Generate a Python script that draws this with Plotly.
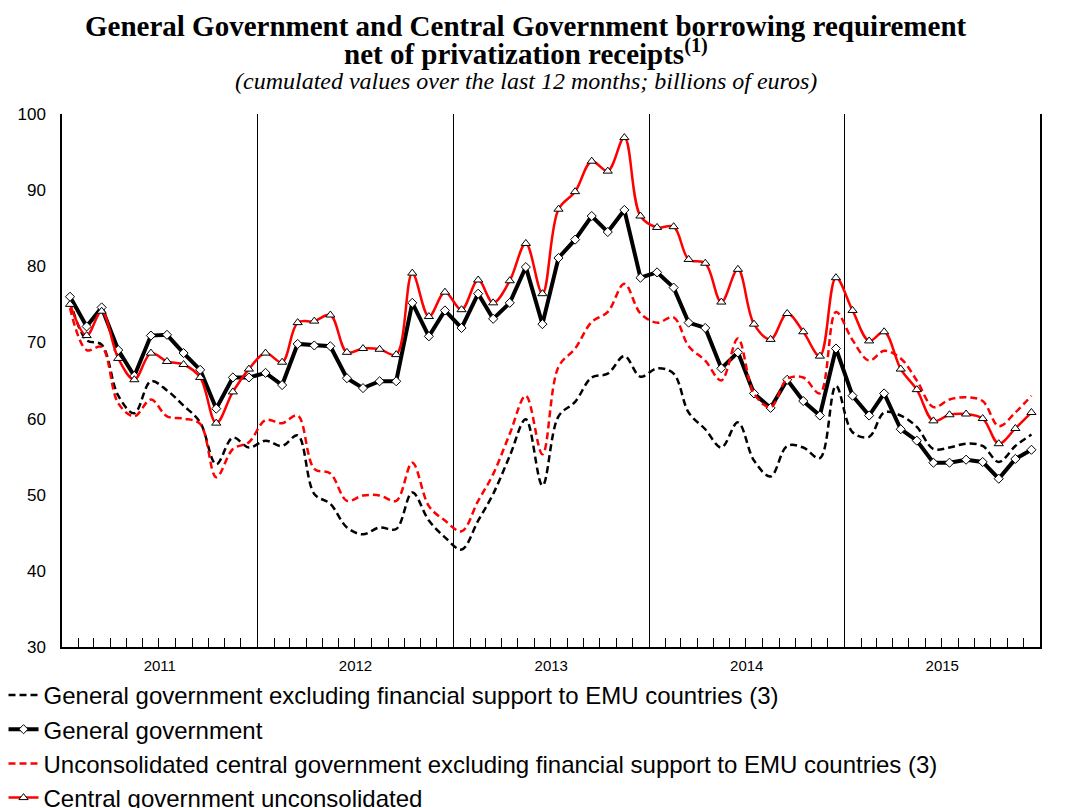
import plotly.graph_objects as go

# Months Jan 2011 .. Dec 2015 (mid-month positions)
months = [f"{y}-{m:02d}-16" for y in range(2011, 2016) for m in range(1, 13)]
year_mid = ["2011-07-01", "2012-07-01", "2013-07-01", "2014-07-01", "2015-07-01"]
y_ticks = [30, 40, 50, 60, 70, 80, 90, 100]
dark_grid = [40, 50, 70, 90]
light_grid = [60, 80]

# General government excluding financial support to EMU countries (black dashed)
gg_ex = [75.5, 70.3, 69.7, 63.0, 60.7, 64.9, 63.7, 61.7, 59.5, 54.0, 57.5, 56.2,
         57.1, 56.4, 57.8, 50.1, 48.8, 45.7, 44.8, 45.7, 45.5, 50.3, 46.6, 44.4,
         42.8, 46.6, 50.1, 55.1, 59.9, 51.2, 60.3, 62.2, 65.4, 65.9, 68.2, 65.5,
         66.6, 65.9, 60.8, 58.6, 56.2, 59.5, 54.5, 52.4, 56.4, 56.2, 54.8, 64.3,
         58.2, 57.6, 60.8, 60.4, 58.9, 56.0, 56.2, 56.7, 56.4, 54.3, 56.4, 57.9]

# General government (black solid, diamonds)
gg = [76.0, 72.1, 74.6, 69.0, 65.6, 70.9, 71.0, 68.6, 66.4, 61.3, 65.4, 65.4,
      66.0, 64.4, 69.8, 69.6, 69.5, 65.3, 64.0, 64.9, 64.9, 75.2, 70.8, 74.2,
      71.9, 76.4, 73.1, 75.2, 79.9, 72.4, 81.1, 83.5, 86.6, 84.5, 87.4, 78.5,
      79.2, 77.2, 72.6, 71.9, 66.6, 68.7, 63.3, 61.4, 65.1, 62.3, 60.4, 69.2,
      63.0, 60.4, 63.3, 58.6, 57.1, 54.2, 54.2, 54.6, 54.3, 52.1, 54.7, 55.9]

# Unconsolidated central government excluding financial support (red dashed)
cg_ex = [74.5, 69.0, 69.4, 62.0, 60.3, 62.5, 60.3, 60.0, 59.3, 52.3, 56.0, 56.9,
         59.8, 59.4, 60.4, 53.4, 52.8, 49.2, 49.9, 49.9, 49.2, 54.2, 48.5, 46.6,
         45.2, 49.2, 52.7, 58.0, 63.0, 55.3, 66.8, 69.2, 72.7, 74.0, 77.7, 73.8,
         72.6, 73.3, 69.5, 67.6, 65.0, 70.5, 63.3, 61.5, 65.2, 65.4, 63.3, 74.0,
         70.3, 67.6, 68.9, 67.9, 65.0, 61.5, 62.5, 62.8, 62.3, 59.0, 60.8, 63.0]

# Central government unconsolidated (red solid, triangles)
cg = [75.0, 70.9, 74.1, 67.9, 65.1, 68.6, 67.5, 67.1, 65.4, 59.4, 63.5, 66.5,
      68.6, 67.4, 72.6, 72.8, 73.6, 68.7, 69.2, 69.1, 68.4, 79.1, 73.4, 76.6,
      74.3, 78.2, 75.2, 78.1, 83.0, 76.4, 87.5, 89.8, 93.8, 92.5, 96.9, 86.6,
      85.1, 85.2, 80.9, 80.4, 75.3, 79.6, 72.4, 70.4, 73.8, 71.4, 68.2, 78.5,
      74.2, 70.2, 71.4, 66.5, 63.8, 59.7, 60.5, 60.6, 60.0, 56.7, 58.7, 60.8]

SANS = "Liberation Sans, Arial, sans-serif"
SERIF = "Liberation Serif, Times New Roman, serif"

fig = go.Figure()
fig.add_trace(go.Scatter(
    x=months, y=gg_ex, mode="lines", legendgroup="a",
    name="General government excluding financial support to EMU countries (3)",
    line=dict(color="black", width=2.5, dash="7px,4px", shape="spline", smoothing=1.0)))
fig.add_trace(go.Scatter(
    x=months, y=gg, mode="lines+markers", legendgroup="b",
    name="General government",
    line=dict(color="black", width=4),
    marker=dict(symbol="diamond", size=7, color="white", line=dict(color="black", width=1))))
fig.add_trace(go.Scatter(
    x=months, y=cg_ex, mode="lines", legendgroup="c",
    name="Unconsolidated central government excluding financial support to EMU countries (3)",
    line=dict(color="#ff0000", width=2.5, dash="7px,4px", shape="spline", smoothing=1.0)))
fig.add_trace(go.Scatter(
    x=months, y=cg, mode="lines+markers", legendgroup="d",
    name="Central government unconsolidated",
    line=dict(color="#ff0000", width=2.5, shape="spline", smoothing=1.0),
    marker=dict(symbol="triangle-up", size=8, color="white", line=dict(color="black", width=1))))

yr = [30, 100]
fig.update_layout(
    width=1084, height=808,
    margin=dict(l=62, r=44, t=114, b=161, autoexpand=False),
    paper_bgcolor="white", plot_bgcolor="white",
    showlegend=True,
    legend=dict(orientation="v", x=-0.0598, y=-0.0486, xanchor="left", yanchor="top",
                font=dict(family=SANS, size=24, color="black"),
                tracegroupgap=0, bgcolor="rgba(0,0,0,0)", itemwidth=30),
    xaxis=dict(type="date", range=["2011-01-01", "2016-01-01"], automargin=False,
               dtick="M12", tick0="2011-01-01", tickformat="%Y", ticklabelmode="period",
               showgrid=True, gridcolor="black", gridwidth=1,
               ticks="", showline=True, linecolor="black", linewidth=1.5,
               ticklabelstandoff=4,
               tickfont=dict(family=SANS, size=15, color="black"),
               minor=dict(dtick="M1", tick0="2011-01-01", ticks="inside", ticklen=9,
                          tickcolor="black", tickwidth=1, showgrid=False),
               zeroline=False),
    xaxis2=dict(type="date", overlaying="x", matches="x", side="top", automargin=False,
                range=["2011-01-01", "2016-01-01"], showticklabels=False,
                ticks="", showgrid=False, showline=True, linecolor="#808080", linewidth=1,
                zeroline=False),
    xaxis3=dict(type="date", overlaying="x", matches="x", side="bottom", automargin=False,
                range=["2011-01-01", "2016-01-01"], tickvals=year_mid, showticklabels=False,
                ticks="inside", ticklen=14, tickcolor="black", showgrid=False,
                showline=False, zeroline=False),
    yaxis=dict(range=yr, tickvals=y_ticks, showgrid=False,
               showline=True, linecolor="black", linewidth=1.5, mirror=True,
               ticks="", ticklabelstandoff=11, zeroline=False, automargin=False,
               tickfont=dict(family=SANS, size=17, color="black")),
    yaxis2=dict(range=yr, tickvals=y_ticks, overlaying="y", matches="y",
                side="right", showgrid=False, showline=False, ticks="", automargin=False,
                ticklabelstandoff=17, zeroline=False,
                tickfont=dict(family=SANS, size=17, color="black")),
    yaxis3=dict(range=yr, tickvals=dark_grid, overlaying="y", matches="y", side="left",
                showticklabels=False, showgrid=True, gridcolor="#a6a6a6", gridwidth=1,
                showline=False, ticks="", zeroline=False, automargin=False),
    yaxis4=dict(range=yr, tickvals=light_grid, overlaying="y", matches="y", side="left",
                showticklabels=False, showgrid=True, gridcolor="#d4d4d4", gridwidth=2,
                showline=False, ticks="", zeroline=False, automargin=False),
)

x_c = (526 - 62) / 978
fig.add_annotation(text="<b>General Government and Central Government borrowing requirement</b>",
                   x=x_c, y=1 + (114 - 26) / 533, xref="paper", yref="paper",
                   showarrow=False, xanchor="center", yanchor="middle",
                   font=dict(family=SERIF, size=29, color="black"))
fig.add_annotation(text="<b>net of privatization receipts<sup>(1)</sup></b>",
                   x=x_c, y=1 + (114 - 52) / 533, xref="paper", yref="paper",
                   showarrow=False, xanchor="center", yanchor="middle",
                   font=dict(family=SERIF, size=29, color="black"))
fig.add_annotation(text="<i>(cumulated values over the last 12 months; billions of euros)</i>",
                   x=x_c, y=1 + (114 - 81) / 533, xref="paper", yref="paper",
                   showarrow=False, xanchor="center", yanchor="middle",
                   font=dict(family=SERIF, size=24, color="black"))

fig.write_html("out.html", config={"displayModeBar": False},
               post_script="document.body.style.margin='0';")
